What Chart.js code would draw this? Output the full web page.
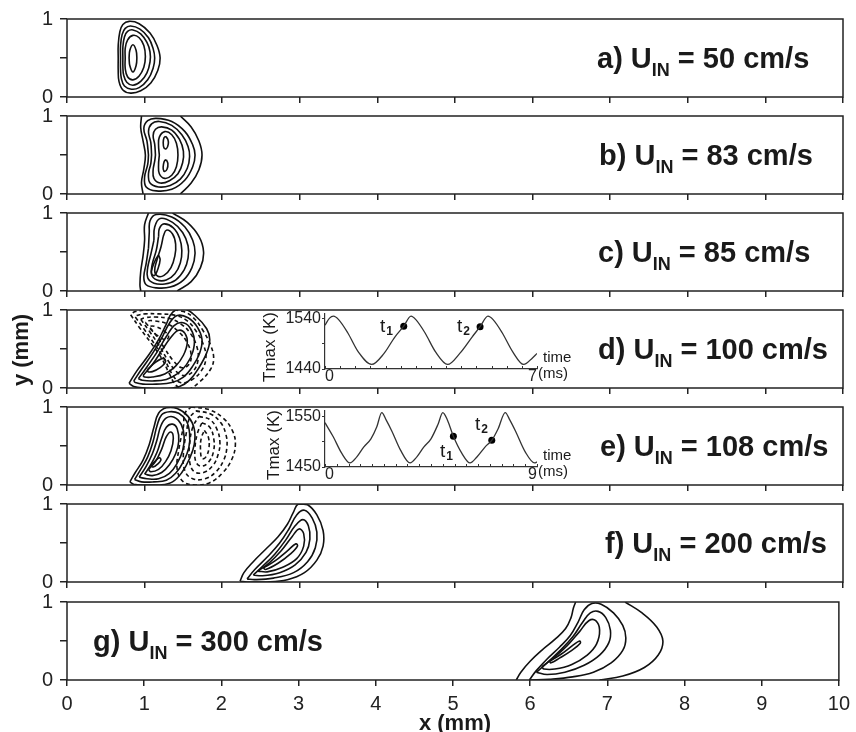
<!DOCTYPE html>
<html>
<head>
<meta charset="utf-8">
<script src="https://cdn.jsdelivr.net/npm/chart.js@4.4.0/dist/chart.umd.min.js"></script>
<style>
    body { margin: 0; background: #fff; }
    #wrap { position: relative; width: 856px; height: 732px; overflow: hidden; font-family: "Liberation Sans", Arial, sans-serif; color: #1a1a1a; }
    canvas { position: absolute; left: 0; }
    .lbl { position: absolute; font-weight: bold; font-size: 29px; line-height: 32px; white-space: nowrap; }
    .lbl .in { font-size: 18px; position: relative; top: 8px; }
    .t { position: absolute; font-size: 19px; line-height: 19px; white-space: nowrap; }
    .t .n { font-size: 12px; font-weight: bold; position: relative; top: 3px; margin-left: 1px; }
    .sm { position: absolute; font-size: 15px; line-height: 15px; white-space: nowrap; }
    .rot { position: absolute; text-align: center; white-space: nowrap; transform: rotate(-90deg); }
</style>
</head>
<body>
<div id="wrap">
    <canvas id="p0"></canvas><canvas id="p1"></canvas><canvas id="p2"></canvas><canvas id="p3"></canvas>
    <canvas id="p4"></canvas><canvas id="p5"></canvas><canvas id="p6"></canvas>
    <canvas id="insD"></canvas><canvas id="insE"></canvas>
</div>
<script>
// 各面板標籤與入口流速
const panelLetters = ['a', 'b', 'c', 'd', 'e', 'f', 'g'];
const inletSpeeds = [50, 83, 85, 100, 108, 200, 300];

// 等值線 (x mm, y mm)
const solidA = [
    [[0.66,0.50],[0.66,0.66],[0.68,0.83],[0.72,0.93],[0.80,0.97],[0.93,0.94],[1.07,0.82],[1.16,0.66],[1.20,0.50],[1.17,0.34],[1.08,0.18],[0.95,0.08],[0.82,0.05],[0.72,0.09],[0.67,0.20],[0.66,0.34],[0.66,0.50]],
    [[0.69,0.50],[0.69,0.66],[0.71,0.80],[0.75,0.88],[0.82,0.91],[0.94,0.87],[1.05,0.76],[1.11,0.62],[1.13,0.50],[1.11,0.37],[1.04,0.22],[0.93,0.12],[0.83,0.10],[0.74,0.14],[0.70,0.24],[0.69,0.36],[0.69,0.50]],
    [[0.72,0.50],[0.72,0.64],[0.74,0.77],[0.78,0.84],[0.85,0.86],[0.95,0.81],[1.03,0.70],[1.07,0.58],[1.07,0.45],[1.03,0.31],[0.95,0.20],[0.85,0.15],[0.77,0.19],[0.73,0.28],[0.72,0.39],[0.72,0.50]],
    [[0.75,0.50],[0.75,0.62],[0.78,0.73],[0.85,0.79],[0.93,0.76],[0.99,0.66],[1.01,0.52],[0.99,0.38],[0.93,0.27],[0.85,0.22],[0.78,0.26],[0.75,0.37],[0.75,0.50]],
    [[0.80,0.50],[0.81,0.60],[0.85,0.67],[0.89,0.60],[0.90,0.50],[0.89,0.40],[0.85,0.32],[0.81,0.40],[0.80,0.50]]
];
const solidB = [
    [[0.96,1.0],[0.95,0.85],[0.98,0.68],[1.01,0.50],[0.99,0.32],[0.96,0.15],[0.98,0.0]],
    [[1.46,1.0],[1.60,0.86],[1.70,0.68],[1.74,0.50],[1.70,0.31],[1.60,0.14],[1.46,0.0]],
    [[1.05,0.50],[1.03,0.68],[0.99,0.84],[1.04,0.94],[1.15,0.97],[1.35,0.93],[1.52,0.80],[1.62,0.63],[1.65,0.50],[1.62,0.35],[1.52,0.18],[1.35,0.06],[1.15,0.04],[1.02,0.09],[1.00,0.22],[1.04,0.38],[1.05,0.50]],
    [[1.09,0.50],[1.08,0.66],[1.05,0.80],[1.09,0.90],[1.19,0.93],[1.35,0.88],[1.48,0.76],[1.56,0.61],[1.58,0.48],[1.55,0.33],[1.46,0.19],[1.33,0.11],[1.18,0.09],[1.07,0.14],[1.05,0.26],[1.08,0.39],[1.09,0.50]],
    [[1.14,0.50],[1.13,0.64],[1.11,0.75],[1.14,0.83],[1.22,0.86],[1.35,0.82],[1.45,0.70],[1.50,0.55],[1.49,0.40],[1.43,0.26],[1.32,0.17],[1.20,0.14],[1.12,0.20],[1.11,0.31],[1.13,0.42],[1.14,0.50]],
    [[1.19,0.50],[1.18,0.62],[1.19,0.73],[1.26,0.80],[1.35,0.76],[1.41,0.65],[1.43,0.50],[1.41,0.35],[1.35,0.24],[1.26,0.20],[1.19,0.26],[1.18,0.38],[1.19,0.50]],
    [[1.27,0.74],[1.30,0.70],[1.305,0.64],[1.28,0.58],[1.25,0.59],[1.24,0.66],[1.25,0.72],[1.27,0.74]],
    [[1.28,0.44],[1.30,0.39],[1.29,0.32],[1.26,0.29],[1.24,0.32],[1.245,0.39],[1.26,0.43],[1.28,0.44]]
];
const solidC = [
    [[1.05,1.0],[1.00,0.85],[1.00,0.65],[0.98,0.45],[0.95,0.25],[0.94,0.08],[0.95,0.0]],
    [[1.36,1.0],[1.55,0.88],[1.70,0.70],[1.76,0.50],[1.72,0.30],[1.60,0.12],[1.42,0.0]],
    [[1.05,0.55],[1.06,0.75],[1.07,0.90],[1.15,0.98],[1.35,0.95],[1.52,0.82],[1.62,0.65],[1.65,0.48],[1.61,0.30],[1.50,0.14],[1.33,0.05],[1.15,0.04],[1.02,0.08],[0.99,0.18],[1.02,0.35],[1.05,0.55]],
    [[1.12,0.65],[1.13,0.82],[1.20,0.93],[1.36,0.88],[1.49,0.75],[1.56,0.58],[1.56,0.42],[1.51,0.27],[1.40,0.14],[1.26,0.09],[1.12,0.10],[1.04,0.17],[1.04,0.30],[1.08,0.47],[1.12,0.65]],
    [[1.18,0.70],[1.19,0.80],[1.25,0.86],[1.37,0.81],[1.45,0.68],[1.48,0.52],[1.46,0.36],[1.39,0.22],[1.28,0.14],[1.16,0.14],[1.09,0.21],[1.10,0.35],[1.15,0.52],[1.18,0.70]],
    [[1.24,0.70],[1.28,0.78],[1.36,0.73],[1.40,0.60],[1.39,0.45],[1.34,0.30],[1.25,0.20],[1.17,0.19],[1.13,0.26],[1.16,0.40],[1.21,0.56],[1.24,0.70]],
    [[1.18,0.46],[1.20,0.40],[1.17,0.28],[1.13,0.20],[1.09,0.22],[1.10,0.30],[1.14,0.40],[1.18,0.46]]
];
const solidD = [
    [[0.80,0.06],[0.90,0.22],[1.05,0.42],[1.18,0.62],[1.28,0.82],[1.36,0.97],[1.50,1.02],[1.66,0.92],[1.80,0.76],[1.84,0.62],[1.80,0.45],[1.70,0.26],[1.58,0.10],[1.45,0.02],[1.20,-0.01],[1.00,0.0],[0.86,0.02],[0.80,0.06]],
    [[0.86,0.09],[0.96,0.24],[1.10,0.44],[1.22,0.64],[1.32,0.83],[1.42,0.93],[1.56,0.90],[1.68,0.78],[1.74,0.62],[1.71,0.45],[1.62,0.28],[1.50,0.14],[1.35,0.07],[1.15,0.05],[0.98,0.05],[0.88,0.07],[0.86,0.09]],
    [[0.92,0.12],[1.03,0.27],[1.16,0.46],[1.28,0.66],[1.38,0.80],[1.48,0.84],[1.58,0.78],[1.64,0.63],[1.62,0.46],[1.54,0.30],[1.42,0.18],[1.28,0.11],[1.10,0.09],[0.97,0.10],[0.92,0.12]],
    [[0.98,0.16],[1.10,0.30],[1.22,0.48],[1.34,0.65],[1.44,0.74],[1.52,0.70],[1.55,0.58],[1.50,0.42],[1.40,0.28],[1.26,0.18],[1.10,0.14],[1.00,0.14],[0.98,0.16]],
    [[1.04,0.24],[1.14,0.33],[1.24,0.38],[1.27,0.34],[1.20,0.26],[1.10,0.21],[1.04,0.21],[1.04,0.24]]
];
const dashedD = [
    [[0.82,0.94],[0.93,0.78],[1.08,0.58],[1.22,0.38],[1.32,0.18],[1.41,0.03],[1.55,-0.02],[1.71,0.08],[1.85,0.24],[1.89,0.38],[1.85,0.55],[1.75,0.74],[1.63,0.90],[1.50,0.98],[1.24,1.01],[1.04,1.0],[0.88,0.98],[0.82,0.94]],
    [[0.88,0.91],[0.99,0.76],[1.13,0.56],[1.26,0.36],[1.36,0.17],[1.46,0.07],[1.60,0.10],[1.73,0.22],[1.79,0.38],[1.76,0.55],[1.67,0.72],[1.55,0.86],[1.40,0.93],[1.18,0.95],[1.01,0.95],[0.90,0.93],[0.88,0.91]],
    [[0.95,0.88],[1.06,0.73],[1.19,0.54],[1.31,0.34],[1.42,0.20],[1.52,0.16],[1.63,0.22],[1.69,0.37],[1.67,0.54],[1.59,0.70],[1.47,0.82],[1.32,0.89],[1.13,0.91],[1.00,0.90],[0.95,0.88]],
    [[1.01,0.84],[1.13,0.70],[1.25,0.52],[1.37,0.35],[1.48,0.26],[1.57,0.30],[1.60,0.42],[1.55,0.58],[1.44,0.72],[1.30,0.82],[1.13,0.86],[1.03,0.86],[1.01,0.84]],
    [[1.07,0.76],[1.17,0.67],[1.27,0.62],[1.31,0.66],[1.24,0.74],[1.13,0.79],[1.07,0.79],[1.07,0.76]]
];
const solidE = [
    [[0.81,0.04],[0.88,0.16],[0.98,0.32],[1.06,0.52],[1.12,0.74],[1.18,0.92],[1.28,0.99],[1.42,0.98],[1.56,0.88],[1.64,0.72],[1.64,0.52],[1.58,0.34],[1.48,0.16],[1.36,0.04],[1.20,0.0],[1.00,0.0],[0.86,0.01],[0.81,0.04]],
    [[0.87,0.07],[0.95,0.20],[1.04,0.36],[1.11,0.56],[1.16,0.76],[1.22,0.90],[1.32,0.94],[1.44,0.92],[1.54,0.82],[1.58,0.66],[1.57,0.48],[1.50,0.30],[1.40,0.15],[1.28,0.06],[1.12,0.04],[0.96,0.04],[0.87,0.07]],
    [[0.93,0.10],[1.02,0.24],[1.10,0.40],[1.16,0.58],[1.21,0.76],[1.28,0.86],[1.38,0.87],[1.47,0.78],[1.51,0.62],[1.49,0.44],[1.42,0.28],[1.32,0.15],[1.18,0.08],[1.03,0.08],[0.93,0.10]],
    [[1.00,0.14],[1.08,0.26],[1.16,0.42],[1.22,0.60],[1.28,0.74],[1.36,0.78],[1.42,0.72],[1.44,0.56],[1.40,0.40],[1.32,0.26],[1.22,0.16],[1.10,0.12],[1.00,0.14]],
    [[1.05,0.20],[1.14,0.30],[1.22,0.46],[1.28,0.62],[1.34,0.68],[1.37,0.60],[1.34,0.44],[1.27,0.30],[1.18,0.20],[1.08,0.17],[1.05,0.20]],
    [[1.08,0.25],[1.14,0.31],[1.19,0.35],[1.21,0.32],[1.17,0.27],[1.11,0.23],[1.08,0.25]]
];
const dashedE = [
    [[1.60,1.0],[1.82,0.97],[2.01,0.86],[2.13,0.70],[2.17,0.52],[2.12,0.32],[2.00,0.15],[1.84,0.03],[1.66,0.0],[1.50,0.04],[1.42,0.20],[1.44,0.45],[1.50,0.75],[1.52,0.92],[1.60,1.0]],
    [[1.66,0.95],[1.85,0.91],[1.98,0.80],[2.05,0.64],[2.06,0.48],[2.02,0.32],[1.92,0.17],[1.78,0.08],[1.62,0.08],[1.52,0.18],[1.50,0.40],[1.54,0.68],[1.58,0.86],[1.66,0.95]],
    [[1.70,0.88],[1.84,0.84],[1.93,0.72],[1.97,0.56],[1.95,0.40],[1.88,0.25],[1.76,0.16],[1.64,0.17],[1.58,0.30],[1.58,0.52],[1.62,0.74],[1.70,0.88]],
    [[1.74,0.80],[1.84,0.74],[1.89,0.60],[1.89,0.44],[1.83,0.30],[1.73,0.24],[1.66,0.30],[1.65,0.48],[1.68,0.66],[1.74,0.80]],
    [[1.77,0.70],[1.82,0.62],[1.83,0.48],[1.79,0.36],[1.74,0.34],[1.72,0.46],[1.73,0.60],[1.77,0.70]]
];
const solidF = [
    [[2.23,0.01],[2.28,0.12],[2.40,0.26],[2.56,0.42],[2.72,0.58],[2.84,0.74],[2.92,0.90],[2.98,1.0],[3.10,0.99],[3.22,0.86],[3.30,0.66],[3.30,0.46],[3.22,0.28],[3.06,0.12],[2.84,0.03],[2.55,0.0],[2.32,0.0],[2.23,0.01]],
    [[2.32,0.04],[2.42,0.16],[2.58,0.32],[2.74,0.50],[2.86,0.68],[2.96,0.86],[3.06,0.92],[3.16,0.82],[3.22,0.64],[3.20,0.44],[3.10,0.26],[2.92,0.12],[2.66,0.05],[2.42,0.03],[2.32,0.04]],
    [[2.40,0.09],[2.52,0.20],[2.68,0.36],[2.82,0.54],[2.94,0.72],[3.04,0.80],[3.11,0.72],[3.13,0.55],[3.08,0.38],[2.94,0.22],[2.74,0.12],[2.52,0.08],[2.40,0.09]],
    [[2.46,0.14],[2.60,0.24],[2.76,0.40],[2.90,0.58],[2.99,0.68],[3.05,0.62],[3.05,0.46],[2.96,0.30],[2.78,0.19],[2.58,0.13],[2.46,0.14]],
    [[2.53,0.18],[2.68,0.27],[2.84,0.40],[2.95,0.49],[2.97,0.46],[2.88,0.36],[2.72,0.24],[2.56,0.16],[2.53,0.18]]
];
const solidG = [
    [[5.82,0.0],[5.88,0.10],[6.00,0.24],[6.15,0.38],[6.32,0.52],[6.46,0.66],[6.53,0.80],[6.56,0.92],[6.59,1.0]],
    [[7.23,1.0],[7.45,0.86],[7.64,0.68],[7.72,0.50],[7.66,0.32],[7.48,0.16],[7.20,0.05],[6.90,0.0]],
    [[5.99,0.0],[6.08,0.12],[6.22,0.27],[6.38,0.42],[6.52,0.57],[6.62,0.74],[6.70,0.90],[6.80,0.98],[6.92,0.97],[7.08,0.86],[7.20,0.70],[7.24,0.54],[7.20,0.38],[7.05,0.22],[6.82,0.10],[6.55,0.04],[6.25,0.01],[5.99,0.0]],
    [[6.08,0.10],[6.22,0.22],[6.38,0.37],[6.55,0.55],[6.68,0.74],[6.78,0.86],[6.88,0.88],[6.98,0.80],[7.04,0.64],[7.02,0.48],[6.90,0.32],[6.70,0.19],[6.45,0.10],[6.22,0.07],[6.08,0.10]],
    [[6.15,0.17],[6.30,0.28],[6.48,0.44],[6.64,0.62],[6.76,0.76],[6.85,0.76],[6.90,0.64],[6.86,0.46],[6.74,0.32],[6.54,0.20],[6.32,0.14],[6.18,0.14],[6.15,0.17]],
    [[6.25,0.24],[6.40,0.33],[6.56,0.45],[6.64,0.50],[6.65,0.47],[6.54,0.38],[6.38,0.28],[6.27,0.22],[6.25,0.24]]
];

// 插圖 Tmax(t)
const timeD = [0, 0.15, 0.28, 0.45, 0.75, 1.1, 1.54, 1.95, 2.3, 2.6, 2.84, 3.0, 3.3, 3.65, 4.05, 4.45, 4.85, 5.12, 5.38, 5.55, 5.85, 6.2, 6.56, 6.85, 7.0];
const tmaxD = [1527, 1541, 1545, 1538, 1512, 1474, 1449, 1471, 1503, 1525, 1545, 1538, 1512, 1474, 1449, 1471, 1503, 1524, 1545, 1538, 1512, 1474, 1449, 1462, 1471];
const markTimeD = [2.6, 5.12];
const markTmaxD = [1525, 1524];
const yTicksD = [1440, 1490, 1540];

const timeE = [0, 0.35, 0.7, 1.06, 1.35, 1.65, 1.95, 2.2, 2.41, 2.6, 2.85, 3.2, 3.61, 3.9, 4.2, 4.5, 4.8, 5.0, 5.2, 5.45, 5.8, 6.16, 6.45, 6.8, 7.08, 7.35, 7.65, 7.85, 8.1, 8.5, 8.9, 9.0];
const tmaxE = [1538, 1510, 1478, 1458, 1470, 1490, 1506, 1530, 1558, 1543, 1520, 1484, 1458, 1470, 1490, 1506, 1535, 1558, 1543, 1511, 1478, 1458, 1470, 1490, 1503, 1526, 1558, 1543, 1520, 1480, 1458, 1460];
const markTimeE = [5.45, 7.08];
const markTmaxE = [1511, 1503];
const yTicksE = [1450, 1500, 1550];

const solids = [solidA, solidB, solidC, solidD, solidE, solidF, solidG];
const dashes = [[], [], [], dashedD, dashedE, [], []];

const FONT = '"Liberation Sans", Arial, sans-serif';
const PANEL_TOPS = [19, 116, 213, 310, 407, 504, 602];
const PANEL_H = 78;
Chart.defaults.font.family = FONT;

// 外框
const framePlugin = {
    id: 'frame',
    afterDatasetsDraw(chart, args, opts) {
        if (!opts.show) return;
        const { ctx, chartArea: a } = chart;
        ctx.save();
        ctx.strokeStyle = '#222';
        ctx.lineWidth = 1.5;
        ctx.strokeRect(a.left, a.top, a.right - a.left, a.bottom - a.top);
        ctx.restore();
    }
};

// 插圖 x 軸向內的小刻度
const innerTicks = {
    id: 'innerTicks',
    afterDraw(chart, args, opts) {
        if (!opts.show) return;
        const xs = chart.scales.x, a = chart.chartArea, ctx = chart.ctx;
        ctx.save();
        ctx.strokeStyle = '#333';
        ctx.lineWidth = 1;
        xs.ticks.forEach(t => {
            const px = Math.round(xs.getPixelForValue(t.value)) + 0.5;
            ctx.beginPath();
            ctx.moveTo(px, a.bottom);
            ctx.lineTo(px, a.bottom - 3);
            ctx.stroke();
        });
        ctx.restore();
    }
};

function lineSet(pts, dashed) {
    return {
        data: pts.map(p => ({ x: p[0], y: p[1] })),
        showLine: true,
        borderColor: '#111',
        borderWidth: 1.6,
        borderDash: dashed ? [4, 3] : [],
        pointRadius: 0,
        tension: 0.4,
        fill: false
    };
}

function drawPanel(i) {
    const isLast = i === 6;
    const padTop = 20;
    const axisH = isLast ? 40 : 20;
    const cv = document.getElementById('p' + i);
    cv.width = 856;
    cv.height = padTop + PANEL_H + axisH;
    cv.style.top = (PANEL_TOPS[i] - padTop) + 'px';

    const sets = solids[i].map(c => lineSet(c, false))
        .concat(dashes[i].map(c => lineSet(c, true)));

    new Chart(cv, {
        type: 'scatter',
        data: { datasets: sets },
        plugins: [framePlugin],
        options: {
            responsive: false,
            animation: false,
            events: [],
            layout: { padding: { top: padTop, right: 13, left: 0, bottom: 0 } },
            plugins: { legend: { display: false }, tooltip: { enabled: false }, frame: { show: true } },
            scales: {
                x: {
                    type: 'linear', min: 0, max: 10,
                    afterFit: s => { s.height = axisH; },
                    border: { display: false },
                    grid: { drawOnChartArea: false, drawTicks: true, tickLength: 6, color: '#222', lineWidth: 1.5 },
                    ticks: {
                        stepSize: 1, display: isLast, padding: 6, color: '#222',
                        font: { size: 20 }, maxRotation: 0, autoSkip: false
                    }
                },
                y: {
                    type: 'linear', min: 0, max: 1,
                    afterFit: s => { s.width = 67; },
                    border: { display: false },
                    grid: { drawOnChartArea: false, drawTicks: true, tickLength: 7, color: '#222', lineWidth: 1.5 },
                    ticks: {
                        stepSize: 0.5, padding: 7, color: '#222', font: { size: 20 },
                        callback: v => (v === 0 || v === 1) ? v : ''
                    }
                }
            }
        }
    });
}

function drawInset(id, areaTop, areaBottom, times, temps, markT, markV, yMin, yMax, yTicks, xMax) {
    const padTop = 10, axisH = 18;
    const cv = document.getElementById(id);
    cv.width = 290;
    cv.height = padTop + (areaBottom - areaTop) + axisH;
    cv.style.left = '255px';
    cv.style.top = (areaTop - padTop) + 'px';
    const shown = [yTicks[0], yTicks[yTicks.length - 1]];

    new Chart(cv, {
        type: 'scatter',
        data: {
            datasets: [
                {
                    data: times.map((t, k) => ({ x: t, y: temps[k] })),
                    showLine: true, borderColor: '#333', borderWidth: 1.3,
                    pointRadius: 0, cubicInterpolationMode: 'monotone', fill: false
                },
                {
                    data: markT.map((t, k) => ({ x: t, y: markV[k] })),
                    showLine: false, pointRadius: 3.5, backgroundColor: '#000', borderWidth: 0
                }
            ]
        },
        plugins: [innerTicks],
        options: {
            responsive: false,
            animation: false,
            events: [],
            layout: { padding: { top: padTop, right: 8, left: 0, bottom: 0 } },
            plugins: { legend: { display: false }, tooltip: { enabled: false }, innerTicks: { show: true } },
            scales: {
                x: {
                    type: 'linear', min: 0, max: xMax,
                    afterFit: s => { s.height = axisH; },
                    border: { display: true, color: '#333', width: 1.2 },
                    grid: { drawOnChartArea: false, drawTicks: false },
                    ticks: {
                        stepSize: 0.5, padding: 0, align: 'inner', color: '#222', autoSkip: false, maxRotation: 0,
                        font: { size: 16, lineHeight: 1 },
                        callback: v => (v === 0 || v === xMax) ? v : ''
                    }
                },
                y: {
                    type: 'linear', min: yMin, max: yMax,
                    afterFit: s => { s.width = 70; },
                    afterBuildTicks: s => { s.ticks = yTicks.map(v => ({ value: v })); },
                    border: { display: true, color: '#333', width: 1.2 },
                    grid: { drawOnChartArea: false, drawTicks: true, tickLength: 3, color: '#333', lineWidth: 1 },
                    ticks: {
                        padding: 1, autoSkip: false, color: '#222', font: { size: 16 },
                        callback: v => shown.includes(v) ? v : ''
                    }
                }
            }
        }
    });
}

for (let i = 0; i < 7; i++) drawPanel(i);
drawInset('insD', 313, 369, timeD, tmaxD, markTimeD, markTmaxD, 1440, 1550, yTicksD, 7);
drawInset('insE', 410, 467, timeE, tmaxE, markTimeE, markTmaxE, 1450, 1562, yTicksE, 9);

// 文字標註
const wrap = document.getElementById('wrap');
function addHtml(cls, html, style) {
    const d = document.createElement('div');
    d.className = cls;
    d.innerHTML = html;
    Object.assign(d.style, style);
    wrap.appendChild(d);
    return d;
}

const labelLeft = [597, 599, 598, 598, 600, 605, 93];
panelLetters.forEach((L, i) => {
    const center = PANEL_TOPS[i] + PANEL_H / 2;
    addHtml('lbl', `${L}) U<span class="in">IN</span> = ${inletSpeeds[i]} cm/s`,
        { left: labelLeft[i] + 'px', top: (center - 16) + 'px' });
});

// 軸標題
addHtml('rot', 'y (mm)', { left: '-24px', top: '338px', width: '90px', height: '24px', lineHeight: '24px', fontSize: '22px', fontWeight: 'bold' });
addHtml('rot', 'x (mm)', { left: '405px', top: '711px', width: '100px', height: '24px', lineHeight: '24px', fontSize: '22px', fontWeight: 'bold', transform: 'none' });
addHtml('rot', 'Tmax (K)', { left: '230px', top: '338px', width: '80px', height: '18px', lineHeight: '18px', fontSize: '17px' });
addHtml('rot', 'Tmax (K)', { left: '234px', top: '436px', width: '80px', height: '18px', lineHeight: '18px', fontSize: '17px' });

// 插圖時間軸標題
addHtml('sm', 'time', { left: '543px', top: '349px' });
addHtml('sm', '(ms)', { left: '538px', top: '365px' });
addHtml('sm', 'time', { left: '543px', top: '447px' });
addHtml('sm', '(ms)', { left: '538px', top: '463px' });

// t1, t2 標記
addHtml('t', 't<span class="n">1</span>', { left: '380px', top: '316px' });
addHtml('t', 't<span class="n">2</span>', { left: '457px', top: '316px' });
addHtml('t', 't<span class="n">1</span>', { left: '440px', top: '441px' });
addHtml('t', 't<span class="n">2</span>', { left: '475px', top: '414px' });
</script>
</body>
</html>
